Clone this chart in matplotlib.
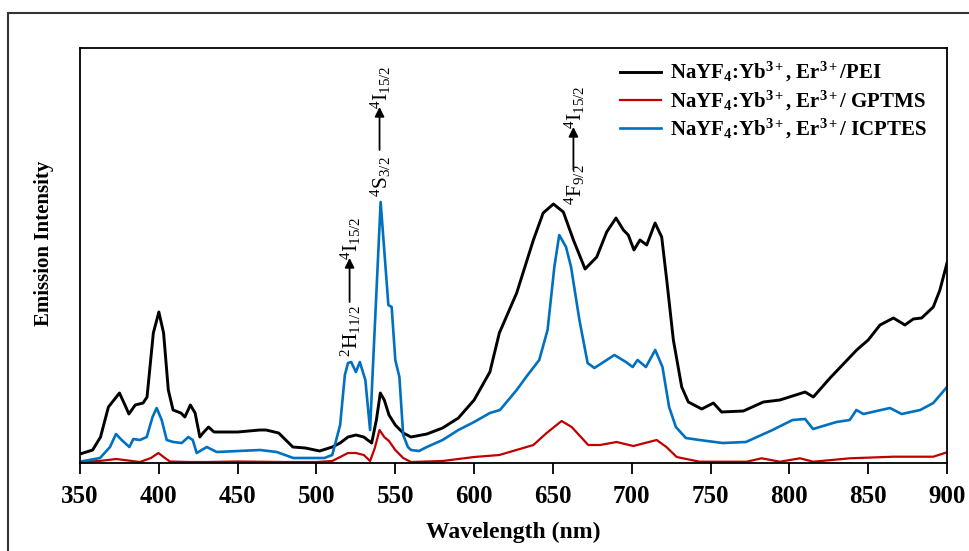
import matplotlib
matplotlib.use("Agg")
import matplotlib.pyplot as plt
from matplotlib.patches import Rectangle

plt.rcParams['font.family'] = ['Liberation Serif', 'DejaVu Serif']
plt.rcParams['mathtext.fontset'] = 'custom'
plt.rcParams['mathtext.rm'] = 'Liberation Serif'
plt.rcParams['mathtext.it'] = 'Liberation Serif:italic'
plt.rcParams['mathtext.bf'] = 'Liberation Serif:bold'

# Upconversion emission spectra (intensity in arbitrary units)
wl_pei = [350, 358, 363, 368, 375, 378.5, 381, 385, 390, 392.5, 396.5, 400, 403, 406,
          409, 414, 416.5, 420, 423, 426, 428, 431.5, 435, 450, 464, 468, 476, 485,
          493, 502, 510, 515, 520, 525, 530, 535, 538, 540.5, 543, 546, 550, 555, 560,
          570, 580, 590, 600, 610, 616, 627, 637.6, 643.8, 650.3, 656.6, 663, 670.4,
          677.8, 684.1, 690, 694.7, 697.8, 701.4, 705.2, 709.5, 714.8, 719, 722.2,
          726.4, 731.7, 735.9, 744.4, 751.8, 757, 770.8, 783.5, 794, 810, 815.2,
          825.8, 842.7, 850, 857.5, 866, 873.3, 878.6, 883.9, 891.3, 895.5, 900]
int_pei = [9, 13, 26, 56, 70, 58, 49, 58, 60, 66, 130, 151, 130, 73,
           53, 50, 46, 58, 50, 26, 30, 36, 31, 31, 33, 33, 30, 16,
           15, 12, 16, 20, 26, 28, 26, 20, 43, 70, 63, 48, 38, 30, 26,
           29, 35, 45, 63, 91, 130, 170, 223, 250, 259, 251, 223, 194,
           206, 231, 245, 233, 228, 213, 223, 218, 240, 226, 183,
           123, 76, 61, 54, 60, 51, 52, 61, 63, 71, 66,
           85, 113, 123, 138, 145, 138, 144, 145, 156, 173, 200]

wl_gptms = [350, 362, 373, 388, 395, 399.7, 403, 407, 420, 430, 450, 480, 500, 510,
            515, 520, 525, 530, 534, 537, 540, 543, 546, 550, 555, 560, 580, 600,
            616, 637.6, 646, 655.5, 661.9, 672.4, 679.8, 690.4, 701, 715.8, 722,
            728.5, 743, 751.7, 772.9, 782.4, 794, 806.7, 815.2, 838.4, 866, 891.3, 900]
int_gptms = [1, 2, 4, 1, 5, 10, 6, 1.5, 1, 1, 1.5, 1, 1, 2,
             6, 10, 10, 8, 2, 15, 33, 26, 22, 13, 5, 1, 2, 6,
             8, 18, 30, 42, 36, 18, 18, 21, 17, 23, 16,
             6, 1.3, 1.3, 1.3, 4.7, 1.3, 4.7, 1.3, 4.7, 6.3, 6.3, 10.7]

wl_icptes = [350, 362.7, 369, 372.8, 376.4, 381.3, 383.8, 388, 392.3, 396, 398.6, 401.8,
             405, 409.2, 414.5, 418.7, 421.5, 424, 427.2, 430.4, 436.7, 464.2, 474.8,
             485.3, 498, 505, 510, 515, 518, 520, 522, 525, 527.5, 531, 534, 535.5,
             540.7, 545.6, 547.7, 550, 552.6, 555, 558, 560, 565, 570, 580, 590, 600,
             610, 616.4, 627, 633, 641.3, 646.6, 650.9, 654, 658.3, 661.5, 666.8, 672,
             676.3, 689, 696.3, 700.6, 703.7, 709, 714.9, 719.5, 723.7, 728, 734.3,
             743, 757.6, 772.4, 789.3, 802, 810, 815, 829.9, 838.3, 842.5, 847, 863.8,
             871.2, 883, 891.3, 900]
int_icptes = [1.3, 5, 16, 29, 23, 16, 24, 23, 26, 46, 55, 43,
              23, 21, 20, 26, 23, 10, 13, 16, 11, 13, 11,
              5, 5, 5, 8, 38, 88, 100, 101, 91, 101, 83, 33, 86,
              261, 158, 156, 103, 86, 28, 16, 13, 12, 16, 23, 33, 41,
              50, 53, 73, 86, 103, 133, 196, 228, 216, 196, 143, 100,
              95, 108, 101, 96, 103, 96, 113, 96, 56, 36, 25,
              23, 20, 21, 33, 43, 44, 34, 41, 43, 53, 49, 55,
              49, 53, 60, 76]

labels = [r'NaYF$_\mathbf{4}$:Yb$^\mathbf{3+}$, Er$^\mathbf{3+}$/PEI',
          r'NaYF$_\mathbf{4}$:Yb$^\mathbf{3+}$, Er$^\mathbf{3+}$/ GPTMS',
          r'NaYF$_\mathbf{4}$:Yb$^\mathbf{3+}$, Er$^\mathbf{3+}$/ ICPTES']

# transitions: (wavelength, lower label, upper label, label base, arrow tail, arrow tip)
transitions = [(521, r'$^{2}$H$_{11/2}$', r'$^{4}$I$_{15/2}$', 106, 161, 205),
               (540, r'$^{4}$S$_{3/2}$', r'$^{4}$I$_{15/2}$', 266, 313, 356),
               (663, r'$^{4}$F$_{9/2}$', r'$^{4}$I$_{15/2}$', 258, 293, 336)]

fig = plt.figure(figsize=(9.69, 5.51), dpi=100)
ax = fig.add_axes([0.0826, 0.1597, 0.8947, 0.7532])

ax.plot(wl_pei, int_pei, color='black', lw=2.1, label=labels[0])
ax.plot(wl_gptms, int_gptms, color='#c00000', lw=1.6, label=labels[1])
ax.plot(wl_icptes, int_icptes, color='#0070c0', lw=1.9, label=labels[2])

for x, lo, hi, base, tail, tip in transitions:
    ax.text(x + 1, base, lo, rotation=90, ha='center', va='bottom', fontsize=15.5)
    ax.annotate('', xy=(x, tip), xytext=(x, tail),
                arrowprops=dict(arrowstyle='-|>', color='black', lw=1.3,
                                mutation_scale=14, shrinkA=0, shrinkB=0))
    ax.text(x + 1, tip - 2, hi, rotation=90, ha='center', va='bottom', fontsize=15.5)

ax.set_xlim(350, 900)
ax.set_ylim(0, 415)
ax.set_xticks(range(350, 901, 50))
ax.set_yticks([])
ax.tick_params(axis='x', direction='out', length=8, width=1.3, labelsize=18, pad=8)
for lab in ax.get_xticklabels():
    lab.set_fontweight('bold')
for s in ax.spines.values():
    s.set_linewidth(1.3)

ax.set_xlabel('Wavelength (nm)', fontsize=17, fontweight='bold', labelpad=10)
ax.set_ylabel('Emission Intensity', fontsize=15, fontweight='bold')
ax.yaxis.set_label_coords(-0.03, 0.53)

ax.legend(loc='upper left', bbox_to_anchor=(0.613, 0.99), frameon=False,
          prop={'weight': 'bold', 'size': 15}, handlelength=2.0,
          handletextpad=0.4, labelspacing=0.2, borderaxespad=0)

# outer border of the panel
fig.add_artist(Rectangle((8 / 969, -0.1), 1.2, 1 - 13 / 551 + 0.1,
                         transform=fig.transFigure, fill=False,
                         lw=1.5, ec='#333333'))

fig.savefig('out.png', dpi=100)
